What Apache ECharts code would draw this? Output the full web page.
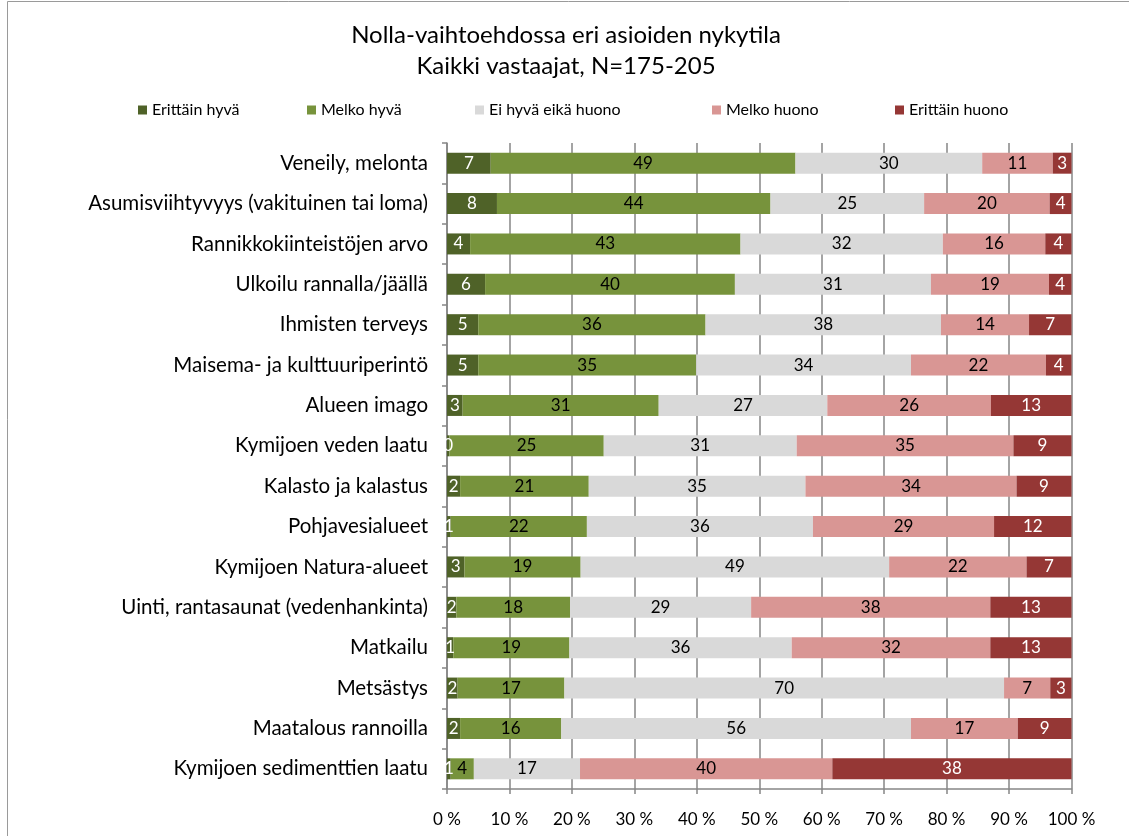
<!DOCTYPE html>
<html>
<head>
<meta charset="utf-8">
<script src="https://cdn.jsdelivr.net/npm/echarts@6/dist/echarts.min.js"></script>
<style>
	html, body { margin: 0; padding: 0; background: #fff; }
	#barCharts { width: 1129px; height: 836px; }
</style>
</head>
<body>
<div id="barCharts"></div>
<script>
	// kategoriat ylhäältä alas
	var categories = ['Veneily, melonta', 'Asumisviihtyvyys (vakituinen tai loma)', 'Rannikkokiinteistöjen arvo',
		'Ulkoilu rannalla/jäällä', 'Ihmisten terveys', 'Maisema- ja kulttuuriperintö', 'Alueen imago',
		'Kymijoen veden laatu', 'Kalasto ja kalastus', 'Pohjavesialueet', 'Kymijoen Natura-alueet',
		'Uinti, rantasaunat (vedenhankinta)', 'Matkailu', 'Metsästys', 'Maatalous rannoilla',
		'Kymijoen sedimenttien laatu'];
	var erittainHyva = [7.0, 8.0, 3.7, 6.1, 5.0, 5.0, 2.5, 0.4, 2.1, 0.6, 2.8, 1.5, 1.0, 1.7, 2.1, 0.6];
	var melkoHyva = [48.8, 43.8, 43.3, 40.0, 36.4, 34.9, 31.4, 24.7, 20.6, 21.8, 18.6, 18.2, 18.6, 17.1, 16.2, 3.7];
	var eiHyvaEikaHuono = [29.9, 24.6, 32.4, 31.4, 37.7, 34.4, 27.0, 30.9, 34.7, 36.2, 49.4, 29.0, 35.6, 70.4, 56.0, 17.0];
	var melkoHuono = [11.3, 20.1, 16.4, 18.9, 14.1, 21.6, 26.2, 34.7, 33.8, 29.0, 22.0, 38.3, 31.8, 7.4, 17.1, 40.4];
	var erittainHuono = [3.0, 3.5, 4.2, 3.6, 6.8, 4.1, 12.9, 9.3, 8.8, 12.4, 7.2, 13.0, 13.0, 3.4, 8.6, 38.3];
	var xTicks = ['0 %', '10 %', '20 %', '30 %', '40 %', '50 %', '60 %', '70 %', '80 %', '90 %', '100 %'];

	var fontName = 'Lato';

	function makeSeries(name, data, color, textColor) {
		return {
			name: name,
			type: 'bar',
			stack: 'total',
			data: data,
			barWidth: 21,
			itemStyle: {
				color: color
			},
			label: {
				show: true,
				position: 'inside',
				color: textColor,
				fontFamily: fontName,
				fontSize: 17,
				formatter: function (p) {
					return Math.round(p.value);
				}
			}
		};
	}

	function makeLegend(name, left) {
		return {
			data: [name],
			left: left,
			top: 97,
			itemWidth: 9,
			itemHeight: 9,
			itemGap: 4,
			icon: 'rect',
			textStyle: {
				fontFamily: fontName,
				fontSize: 16,
				color: '#000'
			}
		};
	}

	var chart = echarts.init(document.getElementById('barCharts'));
	var option = {
		animation: false,
		title: {
			text: 'Nolla-vaihtoehdossa eri asioiden nykytila\nKaikki vastaajat, N=175-205',
			left: 561,
			top: 15,
			textAlign: 'center',
			textStyle: {
				fontFamily: fontName,
				fontSize: 24,
				fontWeight: 'normal',
				color: '#000',
				lineHeight: 31
			}
		},
		legend: [
			makeLegend('Erittäin hyvä', 133),
			makeLegend('Melko hyvä', 302),
			makeLegend('Ei hyvä eikä huono', 470),
			makeLegend('Melko huono', 707),
			makeLegend('Erittäin huono', 890)
		],
		// kehys
		graphic: [{
			type: 'rect',
			shape: { x: 7.5, y: 1.5, width: 1140, height: 850 },
			style: { fill: 'none', stroke: '#9a9a9a', lineWidth: 1 },
			silent: true
		}],
		grid: {
			left: 447,
			right: 57.5,
			top: 143,
			bottom: 47,
			containLabel: false
		},
		xAxis: {
			type: 'value',
			min: 0,
			max: 100,
			interval: 10,
			axisLine: { show: true, lineStyle: { color: '#868686', width: 1.5 } },
			axisTick: { show: true, length: 5, lineStyle: { color: '#868686', width: 1.5 } },
			splitLine: { show: true, lineStyle: { color: '#868686', width: 1.5 } },
			axisLabel: {
				margin: 22,
				fontFamily: fontName,
				fontSize: 17,
				color: '#000',
				formatter: function (v) {
					return xTicks[Math.round(v / 10)];
				}
			}
		},
		yAxis: {
			type: 'category',
			inverse: true,
			data: categories,
			axisLine: { show: true, lineStyle: { color: '#868686', width: 1.5 } },
			axisTick: { show: true, length: 5, lineStyle: { color: '#868686', width: 1.5 } },
			axisLabel: {
				margin: 19,
				fontFamily: fontName,
				fontSize: 20.5,
				color: '#000'
			}
		},
		series: [
			makeSeries('Erittäin hyvä', erittainHyva, '#4f6228', '#fff'),
			makeSeries('Melko hyvä', melkoHyva, '#77933c', '#000'),
			makeSeries('Ei hyvä eikä huono', eiHyvaEikaHuono, '#d9d9d9', '#000'),
			makeSeries('Melko huono', melkoHuono, '#d99694', '#000'),
			makeSeries('Erittäin huono', erittainHuono, '#953735', '#fff')
		]
	};
	chart.setOption(option);
</script>
</body>
</html>
